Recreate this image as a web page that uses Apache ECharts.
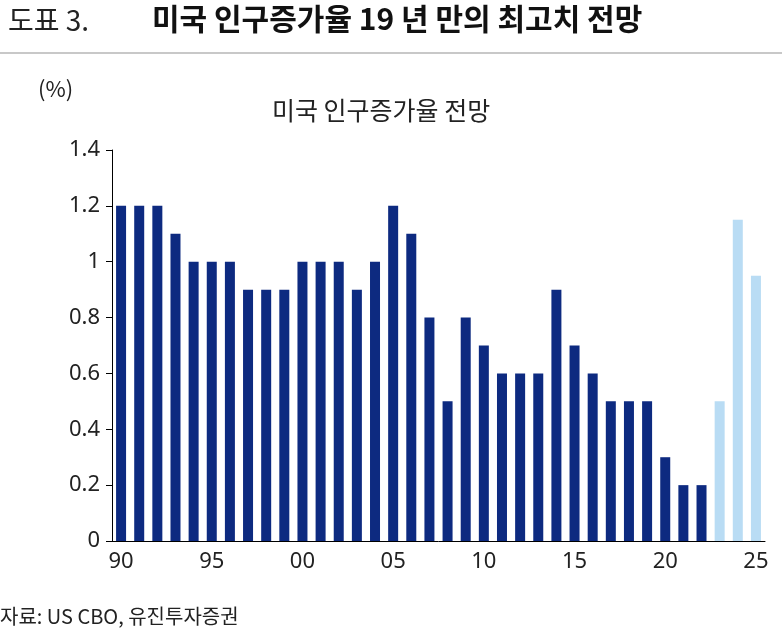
<!DOCTYPE html><html><head><meta charset="utf-8"><script src="https://cdn.jsdelivr.net/npm/echarts@6/dist/echarts.min.js"></script>
<style>body{margin:0;background:#fff}#c{width:782px;height:638px}</style></head><body><div id="c"></div><script>
const years=["90","91","92","93","94","95","96","97","98","99","00","01","02","03","04","05","06","07","08","09","10","11","12","13","14","15","16","17","18","19","20","21","22","23","24","25"];
const values=[1.2,1.2,1.2,1.1,1.0,1.0,1.0,0.9,0.9,0.9,1.0,1.0,1.0,0.9,1.0,1.2,1.1,0.8,0.5,0.8,0.7,0.6,0.6,0.6,0.9,0.7,0.6,0.5,0.5,0.5,0.3,0.2,0.2,0.5,1.15,0.95];
const forecastFrom=33;
const shown=["90","95","00","05","10","15","20","25"];
const F='"Noto Sans CJK KR"';
const chart=echarts.init(document.getElementById('c'));
chart.setOption({animation:false,
graphic:[
{type:'text',left:8,top:6,style:{text:'도표 3.',font:'28px '+F,fill:'#222'}},
{type:'text',left:152,top:4,style:{text:'미국 인구증가율 19 년 만의 최고치 전망',font:'bold 30px '+F,fill:'#111'}},
{type:'rect',shape:{x:0,y:52,width:782,height:2},style:{fill:'#c8c8c8'}},
{type:'text',left:38,top:78,style:{text:'(%)',font:'22px '+F,fill:'#222'}},
{type:'text',left:272,top:98,style:{text:'미국 인구증가율 전망',font:'25px '+F,fill:'#222'}},
{type:'text',left:0,top:606,style:{text:'자료: US CBO, 유진투자증권',font:'20px '+F,fill:'#222'}}
],
grid:{left:112,right:17,top:150,bottom:97},
xAxis:{type:'category',data:years,axisTick:{show:false},axisLine:{lineStyle:{color:'#000'}},
 axisLabel:{interval:0,formatter:v=>shown.includes(v)?v:'',color:'#222',fontSize:22,fontFamily:'Noto Sans',margin:10}},
yAxis:{type:'value',min:0,max:1.4,interval:0.2,splitLine:{show:false},axisLine:{show:true,lineStyle:{color:'#000'}},
 axisTick:{show:true,length:6,lineStyle:{color:'#000'}},
 axisLabel:{color:'#222',fontSize:22,fontFamily:'Noto Sans',margin:12,formatter:v=>String(+v.toFixed(1))}},
series:[{type:'bar',barWidth:10,data:values.map((v,i)=>({value:v,itemStyle:{color:i>=forecastFrom?'#b9dcf4':'#0d2a80'}}))}]
});
</script></body></html>
